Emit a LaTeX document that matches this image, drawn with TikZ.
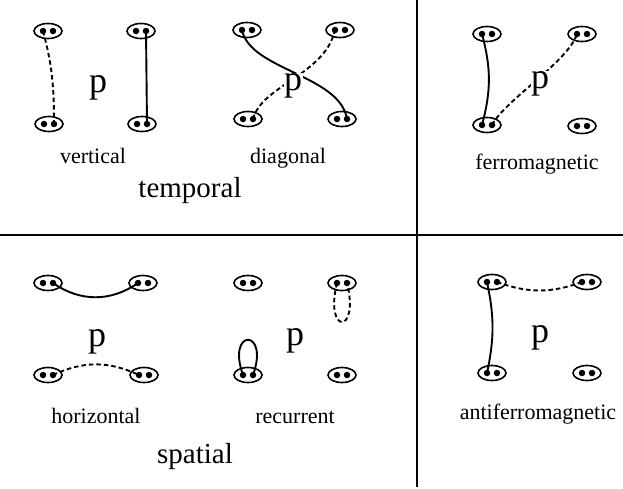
\documentclass[tikz,border=0pt]{standalone}
\usepackage{fontspec}
\setmainfont{Liberation Serif}
\usetikzlibrary{shapes.geometric}

\tikzset{
  pair/.style={draw, ellipse, line width=1.6pt, minimum width=28pt, minimum height=15pt, inner sep=0pt},
  spin/.style={circle, fill, inner sep=0pt, minimum size=6.5pt},
  bond/.style={line width=1.9pt},
  dbond/.style={line width=1.9pt, dash pattern=on 4.5pt off 3pt},
  plaq/.style={fill=white, inner sep=0.5pt, anchor=base, font=\fontsize{36}{38}\selectfont},
  lbl/.style={anchor=base, font=\fontsize{22}{24}\selectfont},
  big/.style={anchor=base, font=\fontsize{29}{32}\selectfont},
  frame/.style={line width=1.2pt}
}

% pair of spins: ellipse with two dots
\newcommand{\spinpair}[2]{%
  \node[pair] (#1) at (#2) {};
  \node[spin] (#1-l) at ([xshift=-5pt]#1.center) {};
  \node[spin] (#1-r) at ([xshift=5pt]#1.center) {};
}

\begin{document}
\begin{tikzpicture}[x=1pt, y=-1pt]
        \useasboundingbox (0,0) rectangle (623,488);

        % frame lines
        \draw[frame] (0,235) -- (623,235);
        \draw[frame] (417,0) -- (417,487);

        % vertical
        \spinpair{vtl}{48,31}
        \spinpair{vtr}{141,31}
        \spinpair{vbl}{49,124}
        \spinpair{vbr}{142,124}
        \draw[dbond] (vtl-l.center) to[out=-75, in=90] (vbl-r.center);
        \draw[bond] (vtr-r.center) -- (vbr-r.center);
        \node[plaq] (vp) at (98,92) {p};
        \node[lbl] (vlbl) at (93,163) {vertical};

        % diagonal
        \spinpair{dtl}{247,30}
        \spinpair{dtr}{340,30}
        \spinpair{dbl}{248,119}
        \spinpair{dbr}{342,119}
        \draw[bond] (dtl-l.center) .. controls (250,70) and (340,75) .. (dbr-r.center);
        \draw[dbond] (dbl-r.center) .. controls (262,85) and (325,75) .. (dtr-l.center);
        \node[plaq] (dp) at (293,90) {p};
        \node[lbl] (dlbl) at (288,163) {diagonal};

        \node[big] (temporal) at (190,197) {temporal};

        % ferromagnetic
        \spinpair{ftl}{487,34}
        \spinpair{ftr}{582,34}
        \spinpair{fbl}{487,125}
        \spinpair{fbr}{582,126}
        \draw[bond] (ftl-l.center) to[bend left=15] (fbl-l.center);
        \draw[dbond] (fbl-r.center) .. controls (505,100) and (568,62) .. (ftr-l.center);
        \node[plaq] (fp) at (540,88) {p};
        \node[lbl] (flbl) at (537,169) {ferromagnetic};

        % horizontal
        \spinpair{htl}{48,283}
        \spinpair{htr}{143,283}
        \spinpair{hbl}{48,375}
        \spinpair{hbr}{144,375}
        \draw[bond] (htl-r.center) to[out=-35, in=-145] (htr-l.center);
        \draw[dbond] (hbl-r.center) to[bend left=25] (hbr-l.center);
        \node[plaq] (hp) at (97,346) {p};
        \node[lbl] (hlbl) at (96,423) {horizontal};

        % recurrent
        \spinpair{rtl}{248,283}
        \spinpair{rtr}{342,283}
        \spinpair{rbl}{248,375}
        \spinpair{rbr}{342,375}
        \draw[bond] (rbl-l.center) .. controls (226,328) and (270,328) .. (rbl-r.center);
        \draw[dbond] (rtr-l.center) .. controls (324,335) and (360,335) .. (rtr-r.center);
        \node[plaq] (rp) at (295,345) {p};
        \node[lbl] (rlbl) at (295,423) {recurrent};

        \node[big] (spatial) at (195,463) {spatial};

        % antiferromagnetic
        \spinpair{atl}{492,282}
        \spinpair{atr}{587,282}
        \spinpair{abl}{492,373}
        \spinpair{abr}{587,373}
        \draw[bond] (atl-l.center) to[bend left=12] (abl-l.center);
        \draw[dbond] (atl-r.center) to[bend right=20] (atr-l.center);
        \node[plaq] (ap) at (540,342) {p};
        \node[lbl] (albl) at (538,419) {antiferromagnetic};
\end{tikzpicture}
\end{document}
